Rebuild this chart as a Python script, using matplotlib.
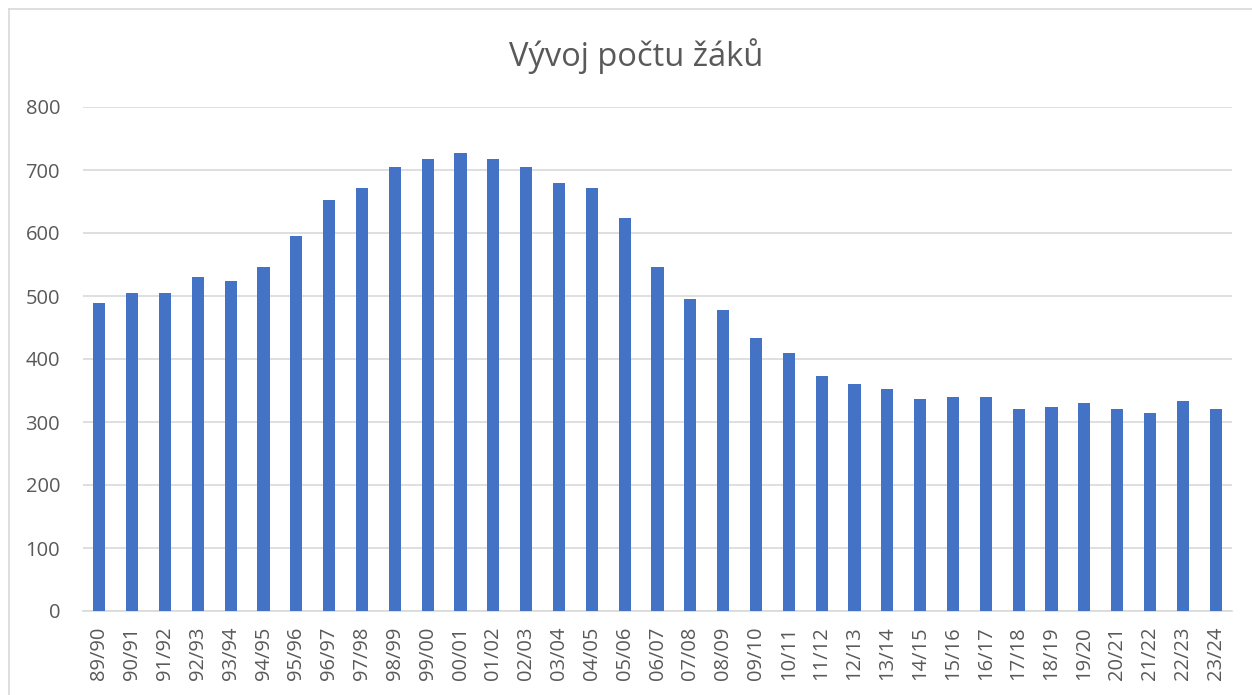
import matplotlib
matplotlib.use("Agg")
import matplotlib.pyplot as plt
from matplotlib.lines import Line2D

years = ["89/90", "90/91", "91/92", "92/93", "93/94", "94/95", "95/96", "96/97",
         "97/98", "98/99", "99/00", "00/01", "01/02", "02/03", "03/04", "04/05",
         "05/06", "06/07", "07/08", "08/09", "09/10", "10/11", "11/12", "12/13",
         "13/14", "14/15", "15/16", "16/17", "17/18", "18/19", "19/20", "20/21",
         "21/22", "22/23", "23/24"]
pupils = [489, 505, 505, 530, 524, 546, 596, 653, 671, 705, 718, 727, 718, 705,
          680, 671, 624, 546, 496, 477, 434, 410, 373, 361, 352, 337, 340, 340,
          320, 324, 330, 320, 314, 333, 320]
y_ticks = [0, 100, 200, 300, 400, 500, 600, 700, 800]

text_col = "#595959"
plt.rcParams['font.family'] = ['Open Sans', 'DejaVu Sans']

W, H = 1252, 695
fig = plt.figure(figsize=(W / 100, H / 100), dpi=100)
ax = fig.add_axes([83 / W, 1 - 611 / H, (1232 - 83) / W, (611 - 107) / H])

x = range(len(years))
ax.bar(x, pupils, width=0.37, color="#4472C4", zorder=3)

ax.set_xlim(-0.5, len(years) - 0.5)
ax.set_ylim(0, 800)
ax.set_yticks(y_ticks)
ax.set_xticks(list(x))
ax.set_xticklabels(years, rotation=90)
ax.tick_params(axis='both', length=0, labelsize=14.5, colors=text_col)
ax.tick_params(axis='y', pad=16.5)
ax.tick_params(axis='x', pad=11)
ax.grid(axis='y', color="#D9D9D9", linewidth=1.2, zorder=0)
for s in ["top", "right", "left"]:
    ax.spines[s].set_visible(False)
ax.spines["bottom"].set_color("#D9D9D9")
ax.spines["bottom"].set_linewidth(1.2)

fig.text(636 / W, 1 - 56 / H, "Vývoj počtu žáků", ha='center', va='center',
         fontsize=23.5, color=text_col)

# chart frame
fig.add_artist(Line2D([9 / W, 9 / W], [0, 1 - 9 / H], color="#D9D9D9", lw=1.2))
fig.add_artist(Line2D([9 / W, 1], [1 - 9 / H, 1 - 9 / H], color="#D9D9D9", lw=1.2))

fig.savefig("out.png", dpi=100, facecolor="white")
